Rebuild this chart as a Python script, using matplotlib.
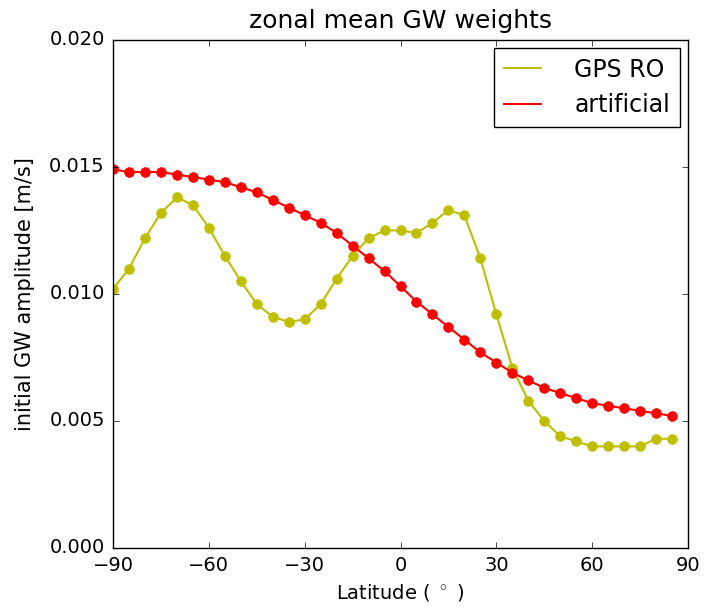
import numpy as np
import matplotlib
matplotlib.use('Agg')
import matplotlib.pyplot as plt

lat = np.arange(-90, 90, 5)

gps_ro = [0.0102, 0.0110, 0.0122, 0.0132, 0.0138, 0.0135, 0.0126, 0.0115,
          0.0105, 0.0096, 0.0091, 0.0089, 0.0090, 0.0096, 0.0106, 0.0115,
          0.0122, 0.0125, 0.0125, 0.0124, 0.0128, 0.0133, 0.0131, 0.0114,
          0.0092, 0.0071, 0.0058, 0.0050, 0.0044, 0.0042, 0.0040, 0.0040,
          0.0040, 0.0040, 0.0043, 0.0043]

artificial = [0.0149, 0.0148, 0.0148, 0.0148, 0.0147, 0.0146, 0.0145, 0.0144,
              0.0142, 0.0140, 0.0137, 0.0134, 0.0131, 0.0128, 0.0124, 0.0119,
              0.0114, 0.0109, 0.0103, 0.0097, 0.0092, 0.0087, 0.0082, 0.0077,
              0.0073, 0.0069, 0.0066, 0.0063, 0.0061, 0.0059, 0.0057, 0.0056,
              0.0055, 0.0054, 0.0053, 0.0052]

plt.style.use('classic')
fig = plt.figure(figsize=(7.07, 6.14), dpi=100, facecolor='white')
ax = fig.add_axes([0.160, 0.1075, 0.813, 0.8275])

ax.plot(lat, gps_ro, color='y', lw=1.5, label='GPS RO')
ax.plot(lat, gps_ro, 'o', color='y', mec='y', ms=7)
ax.plot(lat, artificial, color='r', lw=1.5, label='artificial')
ax.plot(lat, artificial, 'o', color='r', mec='r', ms=7)

ax.set_xlim(-90, 90)
ax.set_ylim(0, 0.020)
ax.set_xticks([-90, -60, -30, 0, 30, 60, 90])
ax.set_yticks([0.0, 0.005, 0.010, 0.015, 0.020])
ax.set_yticklabels(['0.000', '0.005', '0.010', '0.015', '0.020'])
ax.tick_params(labelsize=14, pad=6)
ax.set_xlabel(r'Latitude ( $^\circ$ )', fontsize=14)
ax.set_ylabel('initial GW amplitude [m/s]', fontsize=15, labelpad=10)
ax.set_title('zonal mean GW weights', fontsize=18, y=1.01)
ax.legend(loc='upper right', fontsize=17, numpoints=1, handlelength=1.6,
          handletextpad=1.4, borderaxespad=0.35, fancybox=False)

fig.savefig('out.png', dpi=100, facecolor='white')
